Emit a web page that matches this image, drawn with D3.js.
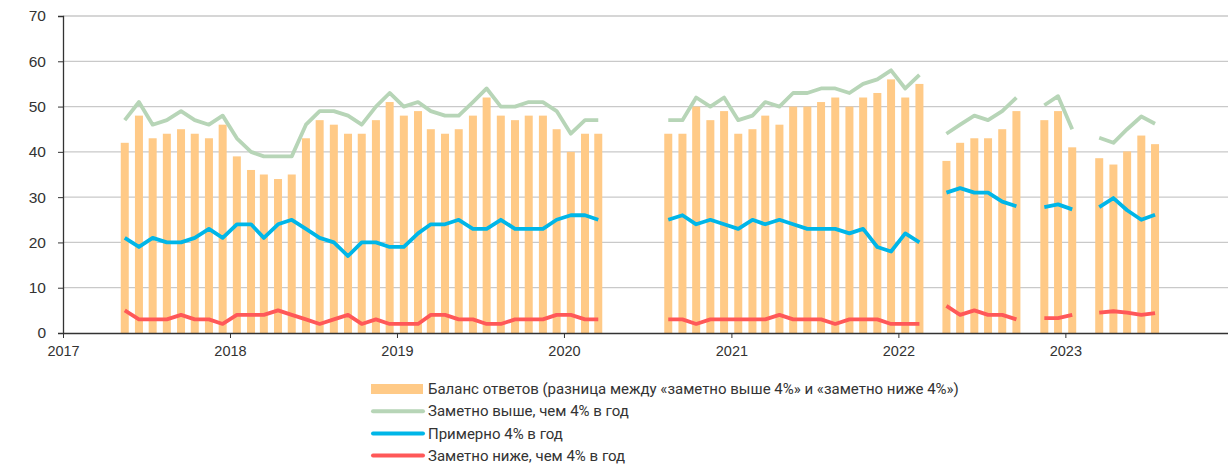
<!DOCTYPE html>
<html>
<head>
<meta charset="utf-8">
<script src="https://cdn.jsdelivr.net/npm/d3@7"></script>
<style>
  body { margin: 0; background: #fff; }
  svg { display: block; font-family: Roboto, "Noto Sans", sans-serif; }
  .tick text { fill: #333; }
</style>
</head>
<body>
<svg width="1228" height="465"></svg>
<script>
// monthly survey, May 2017 .. Jul 2023, null = no survey that month
var months = d3.timeMonth.range(new Date(2017, 4, 1), new Date(2023, 7, 1))
var n = null

var balance = [42,48,43,44,45,44,43,46,39,36,35,34,35,43,47,46,44,44,47,51,48,49,45,44,45,48,52,48,47,48,48,45,40,44,44,
  n,n,n,n,
  44,44,50,47,49,44,45,48,46,50,50,51,52,50,52,53,56,52,55,
  n, 38,42,43,43,45,49, n, 47,49,41, n, 38.6,37.2,40.1,43.6,41.7]
var above = [47,51,46,47,49,47,46,48,43,40,39,39,39,46,49,49,48,46,50,53,50,51,49,48,48,51,54,50,50,51,51,49,44,47,47,
  n,n,n,n,
  47,47,52,50,52,47,48,51,50,53,53,54,54,53,55,56,58,54,57,
  n, 44,46,48,47,49,52, n, 50.3,52.3,45, n, 43.1,42,45,47.8,46.2]
var about = [21,19,21,20,20,21,23,21,24,24,21,24,25,23,21,20,17,20,20,19,19,22,24,24,25,23,23,25,23,23,23,25,26,26,25,
  n,n,n,n,
  25,26,24,25,24,23,25,24,25,24,23,23,23,22,23,19,18,22,20,
  n, 31,32,31,31,29,28, n, 27.8,28.4,27.3, n, 27.8,29.8,27.1,25,26.1]
var below = [5,3,3,3,4,3,3,2,4,4,4,5,4,3,2,3,4,2,3,2,2,2,4,4,3,3,2,2,3,3,3,4,4,3,3,
  n,n,n,n,
  3,3,2,3,3,3,3,3,4,3,3,3,2,3,3,3,2,2,2,
  n, 6,4,5,4,4,3, n, 3.3,3.3,4, n, 4.5,4.8,4.5,4,4.4]

var yTicks = [0, 10, 20, 30, 40, 50, 60, 70]
var xYears = [2017, 2018, 2019, 2020, 2021, 2022, 2023]
var legendLabels = [
  'Баланс ответов (разница между «заметно выше 4%» и «заметно ниже 4%»)',
  'Заметно выше, чем 4% в год',
  'Примерно 4% в год',
  'Заметно ниже, чем 4% в год'
]
var colors = { bar:'#ffca87', above:'#b7d5b7', about:'#00b6e8', below:'#ff5858' }

var svg = d3.select('svg')
var margin = { left:63, top:16, bottom:333 }

var x = d3.scaleTime()
  .domain([new Date(2017, 0, 1), new Date(2024, 0, 1)])
  .range([margin.left, margin.left + 7 * 167.05])
var y = d3.scaleLinear().domain([0, 70]).range([margin.bottom, margin.top])

// mid-month position for each survey
var mid = function(d) { return x(d3.timeDay.offset(d, 15)) }

// horizontal grid
svg.append('g')
  .selectAll('line')
  .data(yTicks.slice(1))
  .enter()
  .append('line')
  .attr('x1', margin.left).attr('x2', 1228)
  .attr('y1', function(d) { return y(d) }).attr('y2', function(d) { return y(d) })
  .attr('stroke', '#c9c9c9').attr('stroke-width', 1.3)

// bars
svg.append('g')
  .selectAll('rect')
  .data(months.map(function(m, i) { return { m:m, v:balance[i] } }).filter(function(d) { return d.v != null }))
  .enter()
  .append('rect')
  .attr('x', function(d) { return mid(d.m) - 4 })
  .attr('width', 8)
  .attr('y', function(d) { return y(d.v) })
  .attr('height', function(d) { return y(0) - y(d.v) })
  .attr('fill', colors.bar)

// lines
var series = [[above, colors.above], [about, colors.about], [below, colors.below]]
series.forEach(function(s) {
  var line = d3.line()
    .defined(function(d) { return d.v != null })
    .x(function(d) { return mid(d.m) })
    .y(function(d) { return y(d.v) })
  svg.append('path')
    .datum(months.map(function(m, i) { return { m:m, v:s[0][i] } }))
    .attr('d', line)
    .attr('fill', 'none')
    .attr('stroke', s[1])
    .attr('stroke-width', 3.8)
    .attr('stroke-linejoin', 'round')
})

// axes
var yAxis = d3.axisLeft(y).tickValues(yTicks).tickSize(5).tickPadding(12)
svg.append('g')
  .attr('transform', 'translate(' + margin.left + ',0)')
  .call(yAxis)
  .call(function(g) {
    g.select('.domain').attr('stroke', '#333').attr('stroke-width', 1.3)
    g.selectAll('.tick line').attr('stroke', '#333')
    g.selectAll('text').attr('font-size', 15.5)
  })

var xAxis = d3.axisBottom(x)
  .tickValues(xYears.map(function(yr) { return new Date(yr, 0, 1) }))
  .tickFormat(d3.timeFormat('%Y'))
  .tickSize(5).tickPadding(8).tickSizeOuter(0)
svg.append('g')
  .attr('transform', 'translate(0,' + margin.bottom + ')')
  .call(xAxis)
  .call(function(g) {
    g.select('.domain').attr('stroke', '#333').attr('stroke-width', 1.5)
    g.selectAll('.tick line').attr('stroke', '#333')
    g.selectAll('text').attr('font-size', 14.5)
  })

// legend
var legend = svg.append('g').attr('transform', 'translate(371,389)')
var legendColors = [colors.bar, colors.above, colors.about, colors.below]
legendLabels.forEach(function(label, i) {
  var row = legend.append('g').attr('transform', 'translate(0,' + (i * 22.2) + ')')
  if (i == 0)
    row.append('rect').attr('x', 0).attr('y', -5).attr('width', 52).attr('height', 10).attr('fill', legendColors[i])
  else
    row.append('line').attr('x1', 2).attr('x2', 52).attr('y1', 0).attr('y2', 0)
      .attr('stroke', legendColors[i]).attr('stroke-width', 4).attr('stroke-linecap', 'round')
  row.append('text')
    .attr('x', 57).attr('y', 0).attr('dy', '0.35em')
    .attr('font-size', 15).attr('fill', '#333')
    .text(label)
})
</script>
</body>
</html>
